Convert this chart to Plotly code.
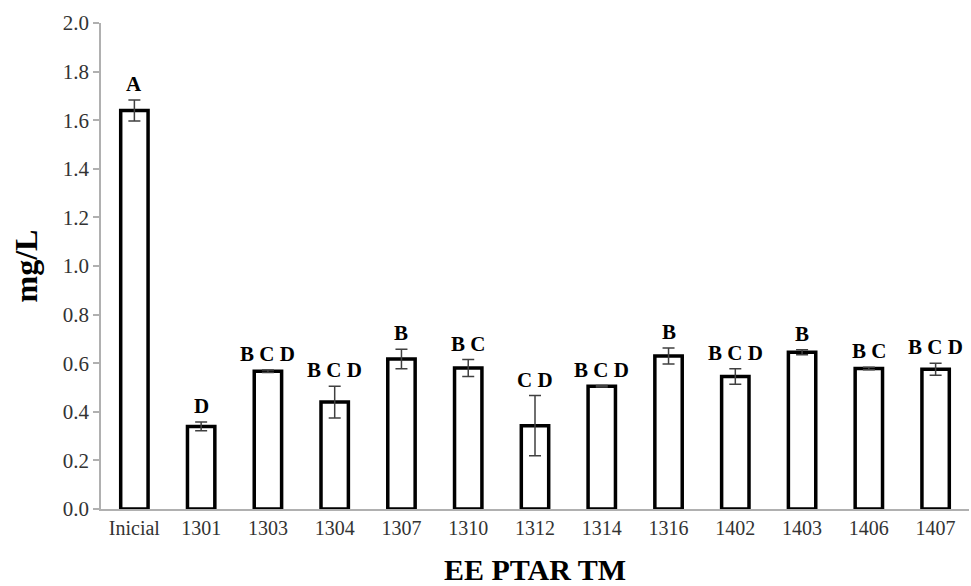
import plotly.graph_objects as go

categories = ["Inicial", "1301", "1303", "1304", "1307", "1310", "1312", "1314", "1316", "1402", "1403", "1406", "1407"]
values = [1.64, 0.34, 0.567, 0.44, 0.617, 0.58, 0.343, 0.505, 0.63, 0.545, 0.645, 0.578, 0.575]
errors = [0.043, 0.018, 0.005, 0.065, 0.04, 0.035, 0.124, 0.003, 0.033, 0.032, 0.01, 0.005, 0.025]
letters = ["A", "D", "B C D", "B C D", "B", "B C", "C D", "B C D", "B", "B C D", "B", "B C", "B C D"]
y_ticks = [0.0, 0.2, 0.4, 0.6, 0.8, 1.0, 1.2, 1.4, 1.6, 1.8, 2.0]

serif = "Liberation Serif, Times New Roman, serif"
idx = list(range(len(categories)))

fig = go.Figure()
fig.add_trace(go.Bar(
    x=idx, y=values,
    width=0.41,
    marker=dict(color="white", line=dict(color="black", width=3.5)),
    error_y=dict(type="data", array=errors, visible=True, color="#404040", thickness=1.5, width=6),
))

for i, v, e, t in zip(idx, values, errors, letters):
    fig.add_annotation(x=i, y=v + e, text="<b>" + t + "</b>", showarrow=False,
                       yanchor="bottom", yshift=2,
                       font=dict(family=serif, size=21, color="black"))

fig.update_layout(
    width=971, height=586,
    margin=dict(l=101, r=2, t=23, b=77),
    plot_bgcolor="white", paper_bgcolor="white",
    showlegend=False,
    font=dict(family=serif, color="#333333"),
)
fig.update_xaxes(
    range=[-0.5, len(categories) - 0.5],
    tickvals=idx, ticktext=categories,
    showline=True, linecolor="#b0b0b0", linewidth=1.5,
    ticks="", tickfont=dict(family=serif, size=20, color="#333333"),
    title=dict(text="<b>EE PTAR TM</b>", font=dict(family=serif, size=30, color="black"), standoff=22),
    showgrid=False, zeroline=False,
)
fig.update_yaxes(
    range=[0, 2.0],
    tickvals=y_ticks, ticktext=[f"{t:.1f}" for t in y_ticks],
    showline=True, linecolor="#b0b0b0", linewidth=1.5,
    ticks="outside", ticklen=6, tickcolor="#b0b0b0", tickwidth=1.5,
    tickfont=dict(family=serif, size=21, color="#333333"),
    title=dict(text="<b>mg/L</b>", font=dict(family=serif, size=32, color="black"), standoff=16),
    showgrid=False, zeroline=False,
)

fig.write_html("out.html")
